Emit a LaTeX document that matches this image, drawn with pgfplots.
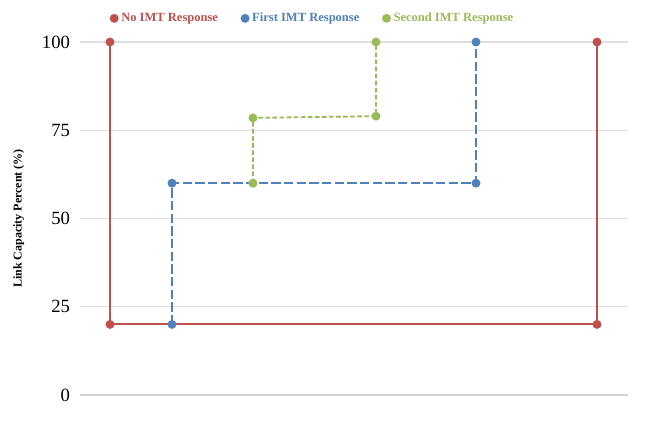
\documentclass[border=0pt]{standalone}
\usepackage{pgfplots}
\pgfplotsset{compat=1.18}
\usepackage{fontspec}
\setmainfont{Liberation Serif}
\definecolor{cred}{RGB}{192,80,77}
\definecolor{cblue}{RGB}{79,129,189}
\definecolor{cgreen}{RGB}{155,187,89}
\begin{document}
\begin{tikzpicture}[x=0.75pt,y=0.75pt]
\begin{axis}[
  scale only axis,
  width=411pt, height=264.75pt,
  xmin=80, xmax=628, ymin=0, ymax=100,
  axis line style={draw=none},
  xtick=\empty,
  ytick={0,25,50,75,100},
  ymajorgrids,
  grid style={gray!25, line width=0.8pt},
  major tick length=0pt,
  yticklabel style={font=\fontsize{14}{14}\selectfont, xshift=-4pt},
  /pgf/number format/assume math mode=true,
  ylabel={\bfseries Link Capacity Percent (\%)},
  ylabel style={font=\fontsize{9}{9}\selectfont, at={(axis description cs:-0.093,0.5)}},
  clip=false,
  legend columns=3,
  legend style={draw=none, at={(axis description cs:0.425,1.067)}, anchor=center,
    font=\fontsize{9.4}{10}\bfseries\selectfont,
    /tikz/every even column/.append style={column sep=15pt}},
  legend image code/.code={\fill[#1, solid] (0.25cm,0cm) circle (2.6pt);},
  every axis plot/.append style={mark=*, mark size=2.6pt},
]
\path (axis cs:0,-8.2) rectangle (axis cs:650,111.9);
\draw[gray!35, line width=0.8pt] (axis cs:80,0) -- (axis cs:628,0);
\addplot[cred, line width=1.4pt, mark options={solid, fill=cred}] coordinates {(110,100) (110,20) (597,20) (597,100)};
\addlegendentry{\textcolor{cred}{No IMT Response}}
\addplot[cblue, line width=1.4pt, dash pattern=on 7pt off 2.5pt, mark options={solid, fill=cblue}] coordinates {(172,20) (172,60) (476,60) (476,100)};
\addlegendentry{\textcolor{cblue}{First IMT Response}}
\addplot[cgreen, line width=1.4pt, dash pattern=on 3.5pt off 1.8pt, mark options={solid, fill=cgreen}] coordinates {(253,60) (253,78.5) (376,79) (376,100)};
\addlegendentry{\textcolor{cgreen}{Second IMT Response}}
\end{axis}
\end{tikzpicture}
\end{document}
